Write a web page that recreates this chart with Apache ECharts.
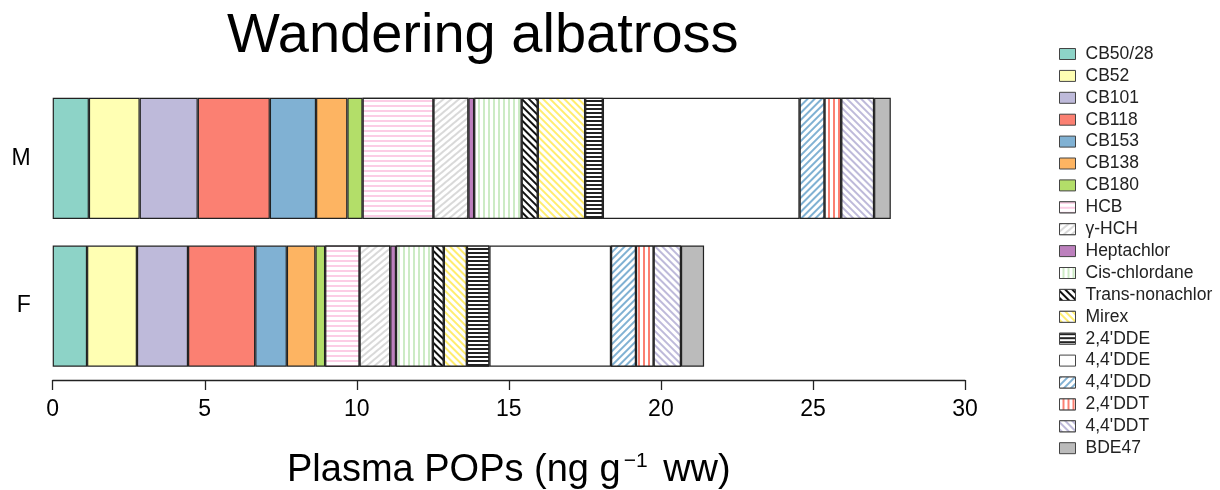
<!DOCTYPE html>
<html>
<head>
<meta charset="utf-8">
<script src="https://cdn.jsdelivr.net/npm/echarts@6/dist/echarts.min.js"></script>
<style>
html,body{margin:0;padding:0;background:#fff;}
#chart{width:1220px;height:490px;}
</style>
</head>
<body>
<div id="chart"></div>
<script>
// ---- data ----
const categories = ['F', 'M'];
const compounds = ['CB50/28','CB52','CB101','CB118','CB153','CB138','CB180','HCB','γ-HCH','Heptachlor','Cis-chlordane','Trans-nonachlor','Mirex',"2,4'DDE","4,4'DDE","4,4'DDD","2,4'DDT","4,4'DDT",'BDE47'];
const maleValues   = [1.19,1.67,1.91,2.37,1.52,1.03,0.50,2.33,1.15,0.19,1.56,0.53,1.56,0.58,6.47,0.82,0.55,1.08,0.55];
const femaleValues = [1.13,1.64,1.68,2.21,1.04,0.94,0.32,1.13,1.01,0.19,1.21,0.36,0.76,0.74,4.00,0.82,0.58,0.90,0.76];
const xTicks = [0,5,10,15,20,25,30];

// ---- styles ----
const FONT = "'Liberation Sans', Arial, sans-serif";
function lines(color, rot, w, gap) {
  return {symbol:'rect', symbolSize:1, color:color, backgroundColor:'#ffffff',
          dashArrayX:[1,0], dashArrayY:[w,gap], rotation:rot};
}
const P = Math.PI;
const styles = [
  {color:'#8DD3C7'},
  {color:'#FFFFB3'},
  {color:'#BEBADA'},
  {color:'#FB8072'},
  {color:'#80B1D3'},
  {color:'#FDB462'},
  {color:'#B3DE69'},
  {color:'#ffffff', decal: lines('#FCCDE5', 0, 1.5, 2.5)},
  {color:'#ffffff', decal: lines('#D9D9D9', -P/4.5, 1.5, 3)},
  {color:'#BC80BD'},
  {color:'#ffffff', decal: lines('#CCEBC5', P/2, 1.5, 3)},
  {color:'#ffffff', decal: lines('#111111', P/4, 2, 2.5)},
  {color:'#ffffff', decal: lines('#FFED6F', P/4, 1.5, 2.5)},
  {color:'#ffffff', decal: lines('#222222', 0, 1.5, 2)},
  {color:'#ffffff'},
  {color:'#ffffff', decal: lines('#80B1D3', -P/4, 1.5, 2.5)},
  {color:'#ffffff', decal: lines('#FB8072', P/2, 1.5, 2.5)},
  {color:'#ffffff', decal: lines('#BEBADA', P/4, 1.5, 2.5)},
  {color:'#BBBBBB'}
];

const series = compounds.map((name, i) => {
  const st = {color: styles[i].color, borderColor:'#222', borderWidth:1.2};
  if (styles[i].decal) st.decal = styles[i].decal;
  return {
    name: name, type:'bar', stack:'total', barWidth:'82%',
    itemStyle: st,
    emphasis:{disabled:true},
    data: [femaleValues[i], maleValues[i]]
  };
});

const chart = echarts.init(document.getElementById('chart'), null, {renderer:'canvas'});
chart.setOption({
  animation:false,
  backgroundColor:'#ffffff',
  title:{
    text:'Wandering albatross', left:222, top:4,
    textStyle:{fontFamily:FONT, fontSize:56, fontWeight:'normal', color:'#000'}
  },
  legend:{
    orient:'vertical', left:1054, top:40,
    itemWidth:16, itemHeight:11, itemGap:3.9,
    icon:'rect',
    itemStyle:{borderColor:'#444', borderWidth:1},
    textStyle:{fontFamily:FONT, fontSize:17.5, color:'#222', padding:[0,0,0,5], lineHeight:17},
    data: compounds
  },
  grid:{left:52.7, right:255, top:84.5, bottom:110, outerBoundsMode:'none', containLabel:false},
  xAxis:{
    type:'value', min:xTicks[0], max:xTicks[xTicks.length-1], interval:5,
    axisLine:{show:true, lineStyle:{color:'#222', width:1.3}},
    axisTick:{show:true, length:10, lineStyle:{color:'#222', width:1.3}},
    splitLine:{show:false},
    axisLabel:{fontFamily:FONT, fontSize:23, color:'#000', margin:18},
    name:'{a|Plasma POPs (ng g}{s|−1}{a| ww)}',
    nameLocation:'middle', nameGap:71,
    nameTextStyle:{
      rich:{
        a:{fontFamily:FONT, fontSize:38, color:'#000'},
        s:{fontFamily:FONT, fontSize:21, color:'#000', verticalAlign:'top', padding:[0,5,18,3]}
      }
    }
  },
  yAxis:{
    type:'category', data:categories,
    axisLine:{show:false}, axisTick:{show:false},
    axisLabel:{fontFamily:FONT, fontSize:23, color:'#000', margin:22}
  },
  series: series
});
</script>
</body>
</html>
